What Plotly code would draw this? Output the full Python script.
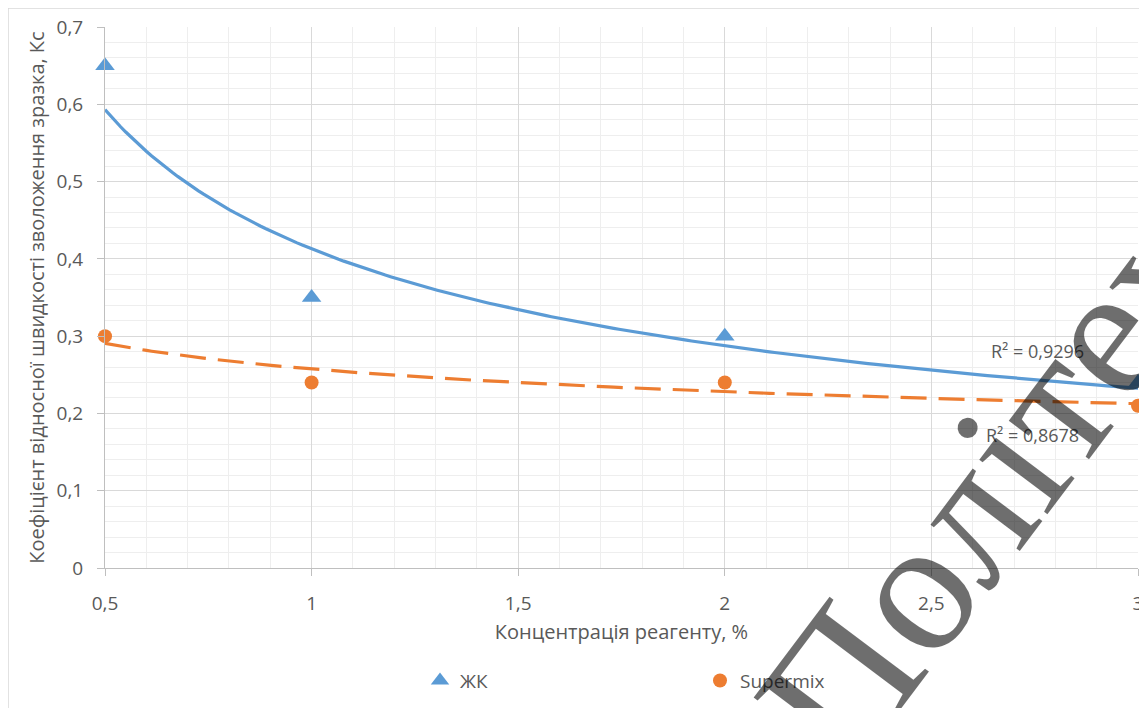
import numpy as np
import plotly.graph_objects as go

# Data
conc = [0.5, 1, 2, 3]
zhk = [0.65, 0.35, 0.30, 0.24]
supermix = [0.30, 0.24, 0.24, 0.21]
r2_zhk = "R² = 0,9296"
r2_sup = "R² = 0,8678"
x_ticks = [0.5, 1, 1.5, 2, 2.5, 3]
x_ticklabels = ["0,5", "1", "1,5", "2", "2,5", "3"]
y_ticks = [0, 0.1, 0.2, 0.3, 0.4, 0.5, 0.6, 0.7]
y_ticklabels = ["0", "0,1", "0,2", "0,3", "0,4", "0,5", "0,6", "0,7"]

BLUE = "#5B9BD5"
ORANGE = "#ED7D31"
TXT = "#595959"
FONT = "Open Sans"

# page body has an 8px margin, so the figure is offset by (8, 8)
W, H = 1139, 700
ML, MR, MT, MB = 97, 9, 19, 138
PW, PH = W - ML - MR, H - MT - MB


def power_fit(x, y):
    b, lna = np.polyfit(np.log(x), np.log(y), 1)
    return np.exp(lna), b


xs = np.linspace(min(conc), max(conc), 200)
a1, b1 = power_fit(conc, zhk)
a2, b2 = power_fit(conc, supermix)

fig = go.Figure()

fig.add_trace(go.Scatter(x=xs, y=a1 * xs ** b1, mode="lines",
                         line=dict(color=BLUE, width=3.2), showlegend=False,
                         hoverinfo="skip"))
fig.add_trace(go.Scatter(x=xs, y=a2 * xs ** b2, mode="lines",
                         line=dict(color=ORANGE, width=3.2, dash="26px,12px"),
                         showlegend=False, hoverinfo="skip"))
fig.add_trace(go.Scatter(x=conc, y=zhk, mode="markers", name="ЖК",
                         marker=dict(symbol="triangle-up", size=17, color=BLUE),
                         cliponaxis=False))
fig.add_trace(go.Scatter(x=conc, y=supermix, mode="markers", name="Supermix",
                         marker=dict(symbol="circle", size=14, color=ORANGE),
                         cliponaxis=False))

fig.add_annotation(x=2.756, y=0.281, text=r2_zhk, showarrow=False,
                   font=dict(family=FONT, size=18, color=TXT))
fig.add_annotation(x=2.744, y=0.1715, text=r2_sup, showarrow=False,
                   font=dict(family=FONT, size=18, color=TXT))

# watermark overlay
fig.add_annotation(xref="paper", yref="paper", x=0.857, y=0.155,
                   xanchor="center", yanchor="middle",
                   text="Політех", showarrow=False, textangle=-53,
                   font=dict(family="Liberation Serif", size=190,
                             color="rgba(0,0,0,0.57)"))

fig.update_xaxes(range=[0.5, 3], tickvals=x_ticks, ticktext=x_ticklabels,
                 automargin=False,
                 showgrid=True, gridcolor="#D9D9D9", gridwidth=1,
                 minor=dict(dtick=0.1, showgrid=True, gridcolor="#EEEEEE",
                            gridwidth=1),
                 showline=True, linecolor="#BFBFBF", linewidth=1,
                 ticks="outside", ticklen=7, tickcolor="#BFBFBF",
                 ticklabelstandoff=11,
                 zeroline=False,
                 tickfont=dict(family=FONT, size=19, color=TXT),
                 title=dict(text="Концентрація реагенту, %",
                            font=dict(family=FONT, size=20, color=TXT),
                            standoff=10))
fig.update_yaxes(range=[0, 0.7], tickvals=y_ticks, ticktext=y_ticklabels,
                 automargin=False,
                 showgrid=True, gridcolor="#D9D9D9", gridwidth=1,
                 minor=dict(dtick=0.02, showgrid=True, gridcolor="#EEEEEE",
                            gridwidth=1),
                 showline=True, linecolor="#BFBFBF", linewidth=1,
                 ticks="outside", ticklen=7, tickcolor="#BFBFBF",
                 ticklabelstandoff=10,
                 zeroline=False,
                 tickfont=dict(family=FONT, size=19, color=TXT),
                 title=dict(text="Коефіцієнт відносної швидкості зволоження зразка, Кс",
                            font=dict(family=FONT, size=20, color=TXT),
                            standoff=6))

fig.update_layout(
    width=W, height=H,
    margin=dict(l=ML, r=MR, t=MT, b=MB),
    paper_bgcolor="white", plot_bgcolor="white",
    legend=dict(orientation="h", x=(412 - ML) / PW, xanchor="left",
                y=-113 / PH, yanchor="middle", entrywidth=235,
                font=dict(family=FONT, size=19, color=TXT)),
    shapes=[dict(type="rect", xref="paper", yref="paper",
                 x0=-ML / PW, x1=(W + 20 - ML) / PW,
                 y0=-(MB + 20) / PH, y1=(PH + MT) / PH,
                 line=dict(color="#D9D9D9", width=1.5), layer="below")],
)

fig.write_html("out.html")
